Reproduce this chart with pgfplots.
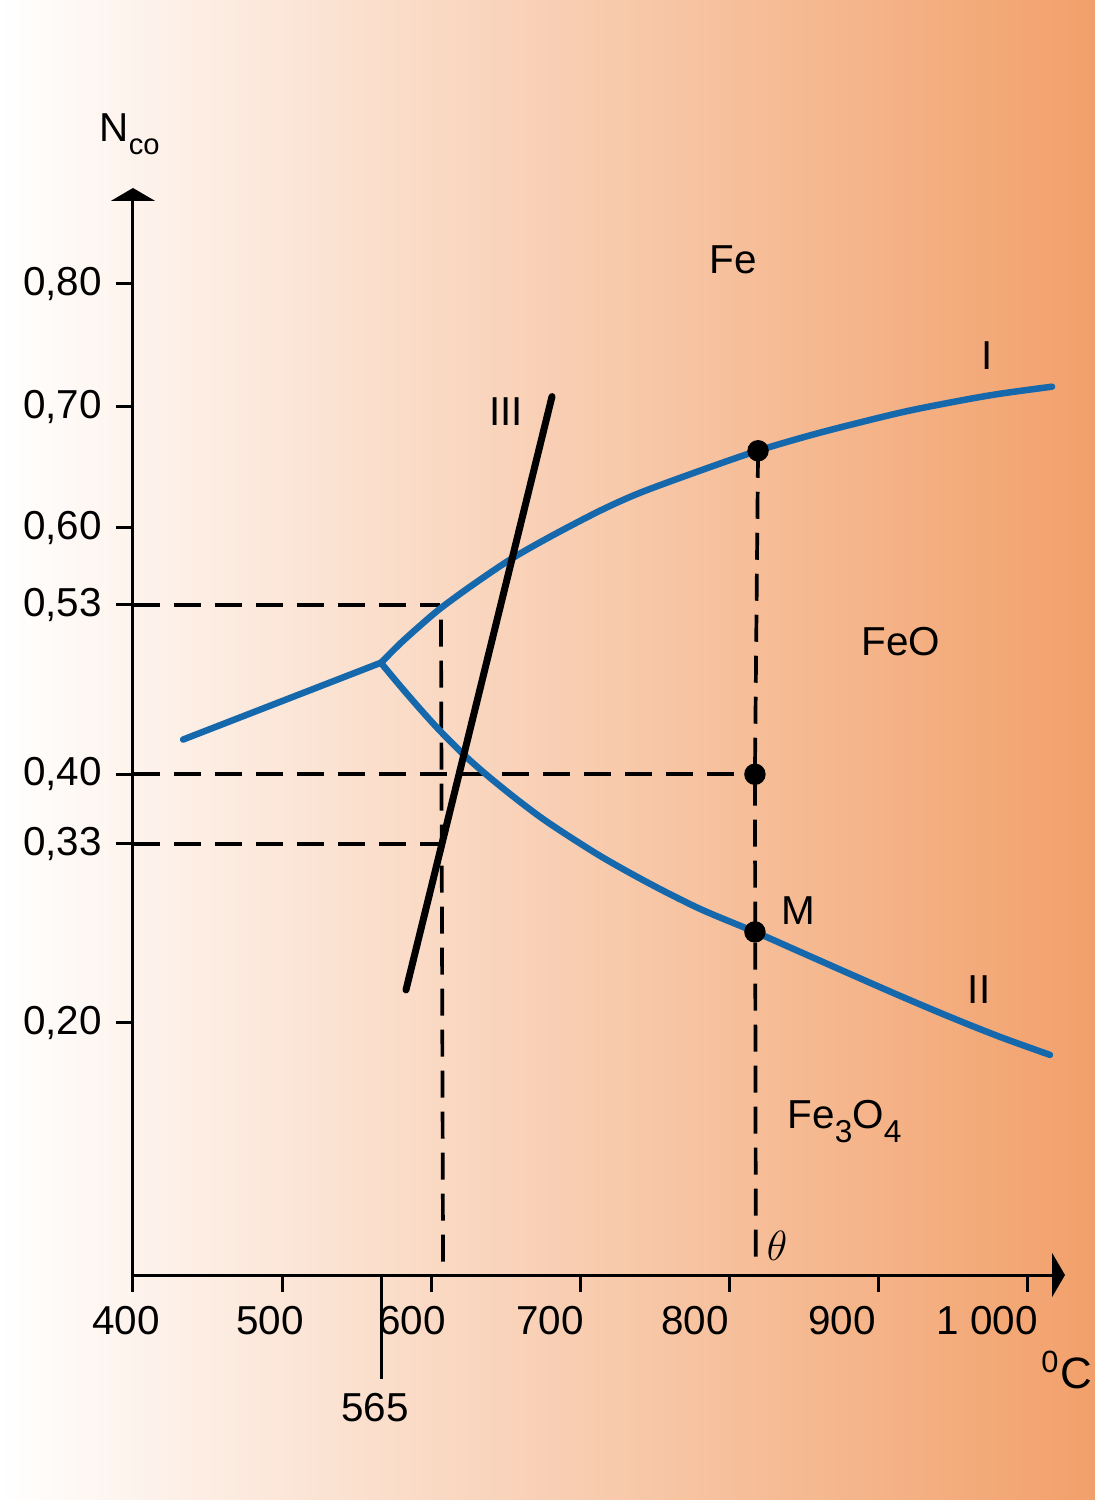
\documentclass[border=0pt]{standalone}
\usepackage{fontspec}
\setmainfont{Liberation Sans}
\usepackage{pgfplots}
\pgfplotsset{compat=1.18}
\usetikzlibrary{arrows.meta}
\definecolor{bgR}{RGB}{242,160,106}
\definecolor{curveblue}{RGB}{22,104,172}
\newcommand{\subsc}[1]{\raisebox{-1.4mm}{\fontsize{9pt}{10pt}\selectfont #1}}
\begin{document}
\fontsize{11.5pt}{13.8pt}\selectfont
\begin{tikzpicture}
\fill[left color=white, right color=bgR] (-13.3mm,-22.5mm) rectangle (96.2mm,127.5mm);
\begin{axis}[
  at={(0,0)}, anchor=south west,
  scale only axis, width=93.2mm, height=108.7mm,
  xmin=400, xmax=1025.5, ymin=0, ymax=0.877,
  clip=false,
  axis lines=left,
  axis line style={line width=0.3mm, black, -{Triangle[length=1.3mm,width=4.4mm]}},
  tick align=outside,
  major tick length=1.7mm,
  tick style={line width=0.3mm, black},
  xtick={400,500,600,700,800,900,1000},
  xticklabels={\hspace*{-1.4mm}400,\hspace*{-2.4mm}500,\hspace*{-3.8mm}600,\hspace*{-6.0mm}700,\hspace*{-6.8mm}800,\hspace*{-7.2mm}900,\hspace*{-8.0mm}1 000},
  ytick={0.2034,0.348,0.404,0.5408,0.6029,0.7006,0.7998},
  yticklabels={{0,20},{0,33},{0,40},{0,53},{0,60},{0,70},{0,80}},
  tick label style={font=\fontsize{11.5pt}{13.8pt}\selectfont, text=black},
  ylabel={N\raisebox{-1.3mm}{\fontsize{8.3pt}{9pt}\selectfont co}},
  ylabel style={rotate=-90, at={(axis description cs:-0.0365,1.0432)}, anchor=base west, inner sep=0pt},
  xlabel={\textsuperscript{0}C},
  xlabel style={at={(axis description cs:0.974,-0.104)}, anchor=base west, inner sep=0pt, font=\fontsize{12.5pt}{14pt}\selectfont},
]
% dashed construction lines
\addplot[black, line width=0.37mm, dash pattern=on 2.7mm off 1.4mm] coordinates {(400,0.5408) (606,0.5408)};
\addplot[black, line width=0.37mm, dash pattern=on 2.7mm off 1.4mm] coordinates {(606.7,0.5287) (608.1,0.0048)};
\addplot[black, line width=0.37mm, dash pattern=on 2.7mm off 1.4mm] coordinates {(400,0.404) (817.4,0.404)};
\addplot[black, line width=0.37mm, dash pattern=on 2.7mm off 1.4mm] coordinates {(400,0.348) (606.7,0.348)};
\addplot[black, line width=0.37mm, dash pattern=on 2.7mm off 1.4mm] coordinates {(819.5,0.665) (817.4,0.404) (818,0.0137)};
% curves
\addplot[curveblue, line width=0.65mm, line cap=round] coordinates {(433.6,0.432) (566.4,0.494)};
\addplot[curveblue, line width=0.65mm, line cap=round, smooth] coordinates {
(566.4,0.4939) (579.2,0.5093) (592.6,0.5238) (606.0,0.5375) (626.2,0.5553) (653.0,0.5771)
(679.9,0.5956) (713.4,0.6166) (740.3,0.6311) (780.5,0.6489) (819.5,0.6651) (861.1,0.6796)
(914.8,0.6957) (955.0,0.7054) (981.9,0.7110) (1016.8,0.7167)};
\addplot[curveblue, line width=0.65mm, line cap=round, smooth] coordinates {
(566.4,0.4939) (579.2,0.4754) (592.6,0.4568) (606.0,0.4391) (622.8,0.4189) (639.6,0.4012)
(659.7,0.3818) (679.9,0.3640) (713.4,0.3382) (747.0,0.3156) (780.5,0.2954) (817.4,0.2768)
(847.7,0.2607) (881.2,0.2429) (914.8,0.2252) (948.3,0.2082) (981.9,0.1921) (1015.4,0.1776)};
\addplot[black, line width=0.7mm, line cap=round] coordinates {(583.2,0.230) (681.2,0.7087)};
% points
\addplot[only marks, mark=*, mark size=1mm, black] coordinates {(819.5,0.665) (817.4,0.404) (817.4,0.2768)};
% 565 marker
\draw[line width=0.3mm, black] (axis cs:566.5,0) -- (axis cs:566.5,-0.0839);
\node at (axis cs:562.4,-0.1073) {565};
% labels
\node at (axis cs:802.7,0.8192) {Fe};
\node at (axis cs:973.2,0.7417) {I};
\node at (axis cs:650.3,0.6965) {III};
\node at (axis cs:915.4,0.5109) {FeO};
\node at (axis cs:846.3,0.2938) {M};
\node at (axis cs:967.8,0.2300) {II};
\node[anchor=base west, inner sep=0pt] at (axis cs:838.9,0.1178) {Fe\subsc{3}O\subsc{4}};
\node at (axis cs:832.2,0.0234) {$\theta$};
\end{axis}
\end{tikzpicture}
\end{document}
